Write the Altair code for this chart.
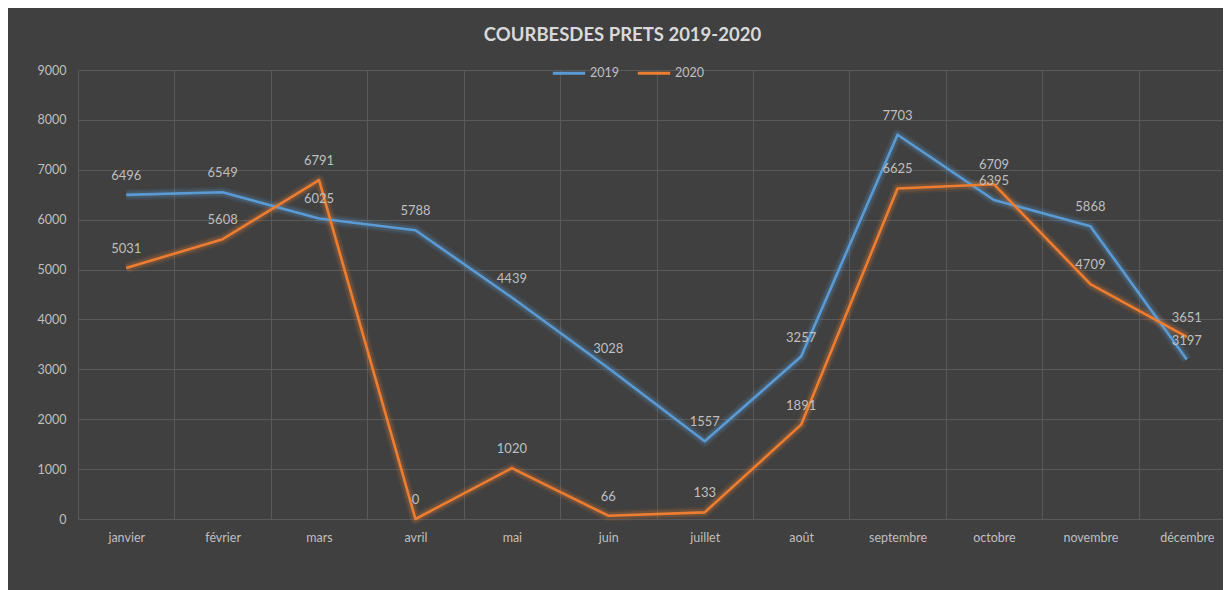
import altair as alt
import pandas as pd

months = ["janvier", "février", "mars", "avril", "mai", "juin", "juillet",
          "août", "septembre", "octobre", "novembre", "décembre"]
v2019 = [6496, 6549, 6025, 5788, 4439, 3028, 1557, 3257, 7703, 6395, 5868, 3197]
v2020 = [5031, 5608, 6791, 0, 1020, 66, 133, 1891, 6625, 6709, 4709, 3651]
series = ["2019", "2020"]
colors = ["#5b9bd5", "#ed7d31"]

rows = []
for m, a, b in zip(months, v2019, v2020):
    rows.append({"mois": m, "annee": "2019", "valeur": a})
    rows.append({"mois": m, "annee": "2020", "valeur": b})
df = pd.DataFrame(rows)

FONT = "Lato"
LABEL = "#bfbfbf"
GRID = "#595959"

x_enc = alt.X("mois:N", sort=months, bandPosition=0.5,
              scale=alt.Scale(type="band", paddingInner=0, paddingOuter=0,
                              range=[0, 1157]),
              axis=alt.Axis(title=None, labelAngle=0, grid=True, gridColor=GRID,
                            tickBand="extent", domain=False, ticks=False,
                            labelColor=LABEL, labelFont=FONT, labelFontSize=12.5,
                            labelPadding=12))
y_enc = alt.Y("valeur:Q", scale=alt.Scale(domain=[0, 9000], nice=False),
              axis=alt.Axis(title=None, values=list(range(0, 9001, 1000)), format="d",
                            grid=True, gridColor=GRID, domain=False, ticks=False,
                            labelColor=LABEL, labelFont=FONT, labelFontSize=12.5,
                            labelPadding=12))

base = alt.Chart(df)

glows = []
for s, c in zip(series, colors):
    for w, op in [(11, 0.10), (7, 0.18)]:
        glows.append(
            base.transform_filter(alt.datum.annee == s)
            .mark_line(color=c, strokeWidth=w, opacity=op, strokeJoin="round")
            .encode(x=x_enc, y=y_enc)
        )

lines = base.mark_line(strokeWidth=2.6, strokeJoin="round").encode(
    x=x_enc, y=y_enc,
    color=alt.Color("annee:N", scale=alt.Scale(domain=series, range=colors),
                    legend=alt.Legend(title=None, orient="none", direction="horizontal",
                                      legendX=473, legendY=-15, padding=0,
                                      symbolType="stroke", symbolSize=1050,
                                      symbolStrokeWidth=3, labelColor=LABEL,
                                      labelFont=FONT, labelFontSize=12.5,
                                      labelOffset=3, columnPadding=12)),
)

labels = base.mark_text(dy=-19, color=LABEL, font=FONT, fontSize=13).encode(
    x=x_enc, y=y_enc, text=alt.Text("valeur:Q", format="d")
)

chart = alt.layer(*glows, lines, labels).properties(
    width=1145, height=449,
    title=alt.TitleParams("COURBESDES PRETS 2019-2020", anchor="middle", dx=-28,
                          offset=11, font=FONT, fontSize=18.5, fontWeight="bold",
                          color="#d9d9d9"),
    autosize=alt.AutoSizeParams(type="none"),
    padding={"left": 70, "top": 62, "right": 0, "bottom": 71},
).configure(background="#404040").configure_view(stroke=None)

chart.save("out.html", embed_options={"renderer": "svg", "actions": False})
